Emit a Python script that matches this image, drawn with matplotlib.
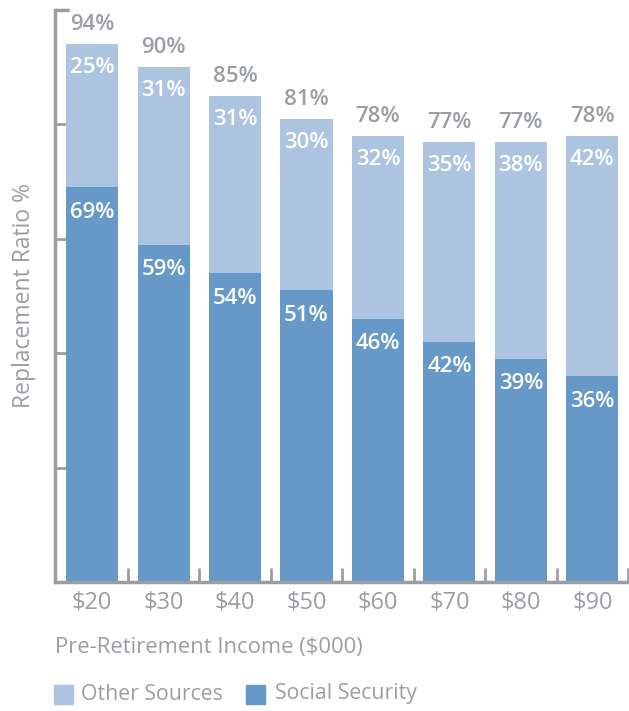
import numpy as np
import matplotlib.pyplot as plt
from matplotlib.patches import Rectangle

plt.rcParams['font.family'] = ['Open Sans', 'DejaVu Sans']

# Data
income = ['$20', '$30', '$40', '$50', '$60', '$70', '$80', '$90']
social_security = [69, 59, 54, 51, 46, 42, 39, 36]
other_sources = [25, 31, 31, 30, 32, 35, 38, 42]
totals = [94, 90, 85, 81, 78, 77, 77, 78]

dark_blue = '#6699c8'
light_blue = '#adc4e1'
grey = '#9a9ea2'

fig = plt.figure(figsize=(6.29, 7.11), dpi=100)
ax = fig.add_axes([55 / 629, 1 - 582 / 711, 573 / 629, 572 / 711])

x = np.arange(len(income))
w = 0.73
ax.bar(x, social_security, width=w, color=dark_blue, zorder=2)
ax.bar(x, other_sources, width=w, bottom=social_security, color=light_blue, zorder=2)

# labels
for i in range(len(income)):
    ax.annotate(f'{totals[i]}%', (x[i], totals[i]), xytext=(0, 14), textcoords='offset points',
                ha='center', va='center', fontsize=16, fontweight='semibold', color=grey)
    ax.annotate(f'{other_sources[i]}%', (x[i], totals[i]), xytext=(0, -17), textcoords='offset points',
                ha='center', va='center', fontsize=16, fontweight='semibold', color='white')
    ax.annotate(f'{social_security[i]}%', (x[i], social_security[i]), xytext=(0, -18), textcoords='offset points',
                ha='center', va='center', fontsize=16, fontweight='semibold', color='white')

ax.set_xlim(-0.52, 7.48)
ax.set_ylim(0, 100)

for s in ['top', 'right']:
    ax.spines[s].set_visible(False)
for s in ['left', 'bottom']:
    ax.spines[s].set_color(grey)
    ax.spines[s].set_linewidth(2.5)
ax.spines['bottom'].set_zorder(3)

ax.set_yticks(np.arange(0, 101, 20))
ax.set_yticklabels([])
ax.tick_params(axis='y', direction='in', length=10, width=2, color=grey)
ax.set_xticks(x + 0.5, minor=True)
ax.set_xticks(x)
ax.set_xticklabels(income, fontsize=17, color=grey)
ax.tick_params(axis='x', which='major', length=0, pad=6)
ax.tick_params(axis='x', which='minor', direction='in', length=10, width=2, color=grey)

# top bracket tick
ax.plot([-0.52, -0.33], [100, 100], color=grey, lw=2.5, clip_on=False, solid_capstyle='butt')

ax.set_ylabel('Replacement Ratio %', fontsize=16.5, color=grey, labelpad=10)

fig.text(55 / 629, 1 - 648 / 711, 'Pre-Retirement Income ($000)', fontsize=15.8,
         color=grey, ha='left', va='center')

# legend
ly = 1 - 694 / 711
sq = 19
fig.patches.append(Rectangle((54 / 629, ly - sq / 2 / 711), sq / 629, sq / 711,
                             transform=fig.transFigure, color=light_blue))
fig.text(81 / 629, ly, 'Other Sources', fontsize=15.3, color=grey, ha='left', va='center')
fig.patches.append(Rectangle((246 / 629, ly - sq / 2 / 711), sq / 629, sq / 711,
                             transform=fig.transFigure, color=dark_blue))
fig.text(275 / 629, ly, 'Social Security', fontsize=15.3, color=grey, ha='left', va='center')

fig.savefig('out.png', dpi=100)
